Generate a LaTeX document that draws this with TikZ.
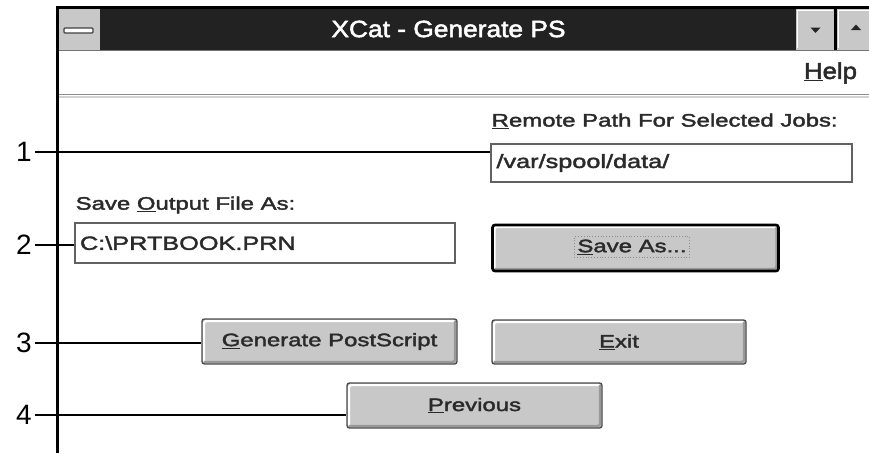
\documentclass[tikz,border=0pt]{standalone}
\usepackage{fontspec}
\setmainfont{Liberation Sans}
\newfontfamily\uifont[FakeStretch=1.33,FakeBold=2.2]{Liberation Sans}
\newfontfamily\titlefont[FakeStretch=1.12,FakeBold=2.2]{Liberation Sans}
\newcommand\mnem[1]{\underline{#1}}
\definecolor{btnface}{HTML}{C8C8C8}
\definecolor{barbg}{HTML}{222222}
\definecolor{uitxt}{HTML}{2A2A2A}
\begin{document}
\begin{tikzpicture}[x=1pt,y=-1pt,
  uilabel/.style={inner sep=0pt,anchor=west,text=uitxt,font=\uifont\fontsize{18}{20}\selectfont},
  field/.style={draw=black!62,line width=2pt,fill=white,inner xsep=5pt,inner ysep=0pt,
    anchor=center,align=left,text=uitxt,font=\uifont\fontsize{19}{21}\selectfont},
  button/.style={draw=black!70,line width=1.4pt,rounded corners=2.5pt,fill=btnface,
    inner sep=0pt,text=uitxt,font=\uifont\fontsize{18}{20}\selectfont,
    path picture={
      \draw[white,line width=2.4pt]
        ([xshift=2pt,yshift=2.5pt]path picture bounding box.south west) --
        ([xshift=2pt,yshift=-2pt]path picture bounding box.north west) --
        ([xshift=-2.5pt,yshift=-2pt]path picture bounding box.north east);
      \draw[black!40,line width=2.4pt]
        ([xshift=2pt,yshift=2pt]path picture bounding box.south west) --
        ([xshift=-2pt,yshift=2pt]path picture bounding box.south east) --
        ([xshift=-2pt,yshift=-2pt]path picture bounding box.north east);
    }},
  defbutton/.style={button,draw=black,line width=2.6pt},
  callout/.style={inner xsep=3pt,inner ysep=0pt,anchor=east,font=\fontsize{28}{30}\selectfont},
  leader/.style={line width=2.8pt,black}]

\useasboundingbox (0,0) rectangle (869,453);

% title bar
\fill[barbg] (59,9) rectangle (869,50);
\fill[btnface] (59,9) rectangle (100,50);
\draw[black!55,line width=1pt] (59,50) -- (869,50);
\draw[black!75,line width=1.2pt,fill=white,rounded corners=1pt] (64,28) rectangle (93,33);
\node[text=white,inner sep=0pt,font=\titlefont\fontsize{23.5}{26}\selectfont] (title) at (448.5,29) {XCat - Generate PS};

% window sizing buttons
\fill[btnface] (796,9) rectangle (834,49.5);
\fill[btnface] (837,9) rectangle (869,49.5);
\fill[black] (834,9) rectangle (837,50);
\draw[white,line width=1pt] (797,48) -- (797,10) -- (833,10);
\draw[white,line width=1pt] (838,48) -- (838,10) -- (869,10);
\fill[black!85] (810.5,27.5) -- (820.5,27.5) -- (815.5,33) -- cycle;
\fill[black!85] (851,30) -- (861,30) -- (856,24.5) -- cycle;

% menu bar
\node[text=uitxt,inner sep=0pt,font=\titlefont\fontsize{23}{25}\selectfont] (help) at (830.5,73) {\mnem{H}elp};
\draw[black!45,line width=1.6pt] (59,94.5) -- (869,94.5);
\draw[black!18,line width=1.4pt] (59,97) -- (869,97);

% window frame
\draw[black,line width=3pt] (56,7.5) -- (869,7.5);
\draw[black,line width=3pt] (57.5,6) -- (57.5,453);

% remote path
\node[uilabel] (rplabel) at (491.5,121) {\mnem{R}emote Path For Selected Jobs:};
\node[field,minimum width=361pt,minimum height=38pt,text width=350pt] (rpath) at (671.5,163) {/var/spool/data/};

% output file
\node[uilabel] (oflabel) at (75.5,205) {Save \mnem{O}utput File As:};
\node[field,minimum width=380pt,minimum height=40pt,text width=370pt] (ofile) at (265,243) {C:\textbackslash PRTBOOK.PRN};

% buttons
\node[defbutton,minimum width=286pt,minimum height=46pt] (saveas) at (635.5,248) {};
\node[draw=black!45,dotted,line width=0.8pt,inner xsep=3pt,inner ysep=3pt,text=uitxt,
  font=\uifont\fontsize{18}{20}\selectfont] (saveastxt) at (632,247) {\mnem{S}ave As...};
\node[button,minimum width=255pt,minimum height=45pt] (gen) at (329.5,341.5) {\mnem{G}enerate PostScript};
\node[button,minimum width=254pt,minimum height=44pt] (exit) at (619,342) {\mnem{E}xit};
\node[button,minimum width=255pt,minimum height=45pt] (prev) at (474.5,405.5) {\mnem{P}revious};

% callouts
\node[callout] (c1) at (35,152) {1};
\node[callout] (c2) at (35,245) {2};
\node[callout] (c3) at (35,343) {3};
\node[callout] (c4) at (35,415) {4};
\draw[leader] (c1.east) -- (c1.east -| rpath.west);
\draw[leader] (c2.east) -- (c2.east -| ofile.west);
\draw[leader] (c3.east) -- (c3.east -| gen.west);
\draw[leader] (c4.east) -- (c4.east -| prev.west);
\end{tikzpicture}
\end{document}
